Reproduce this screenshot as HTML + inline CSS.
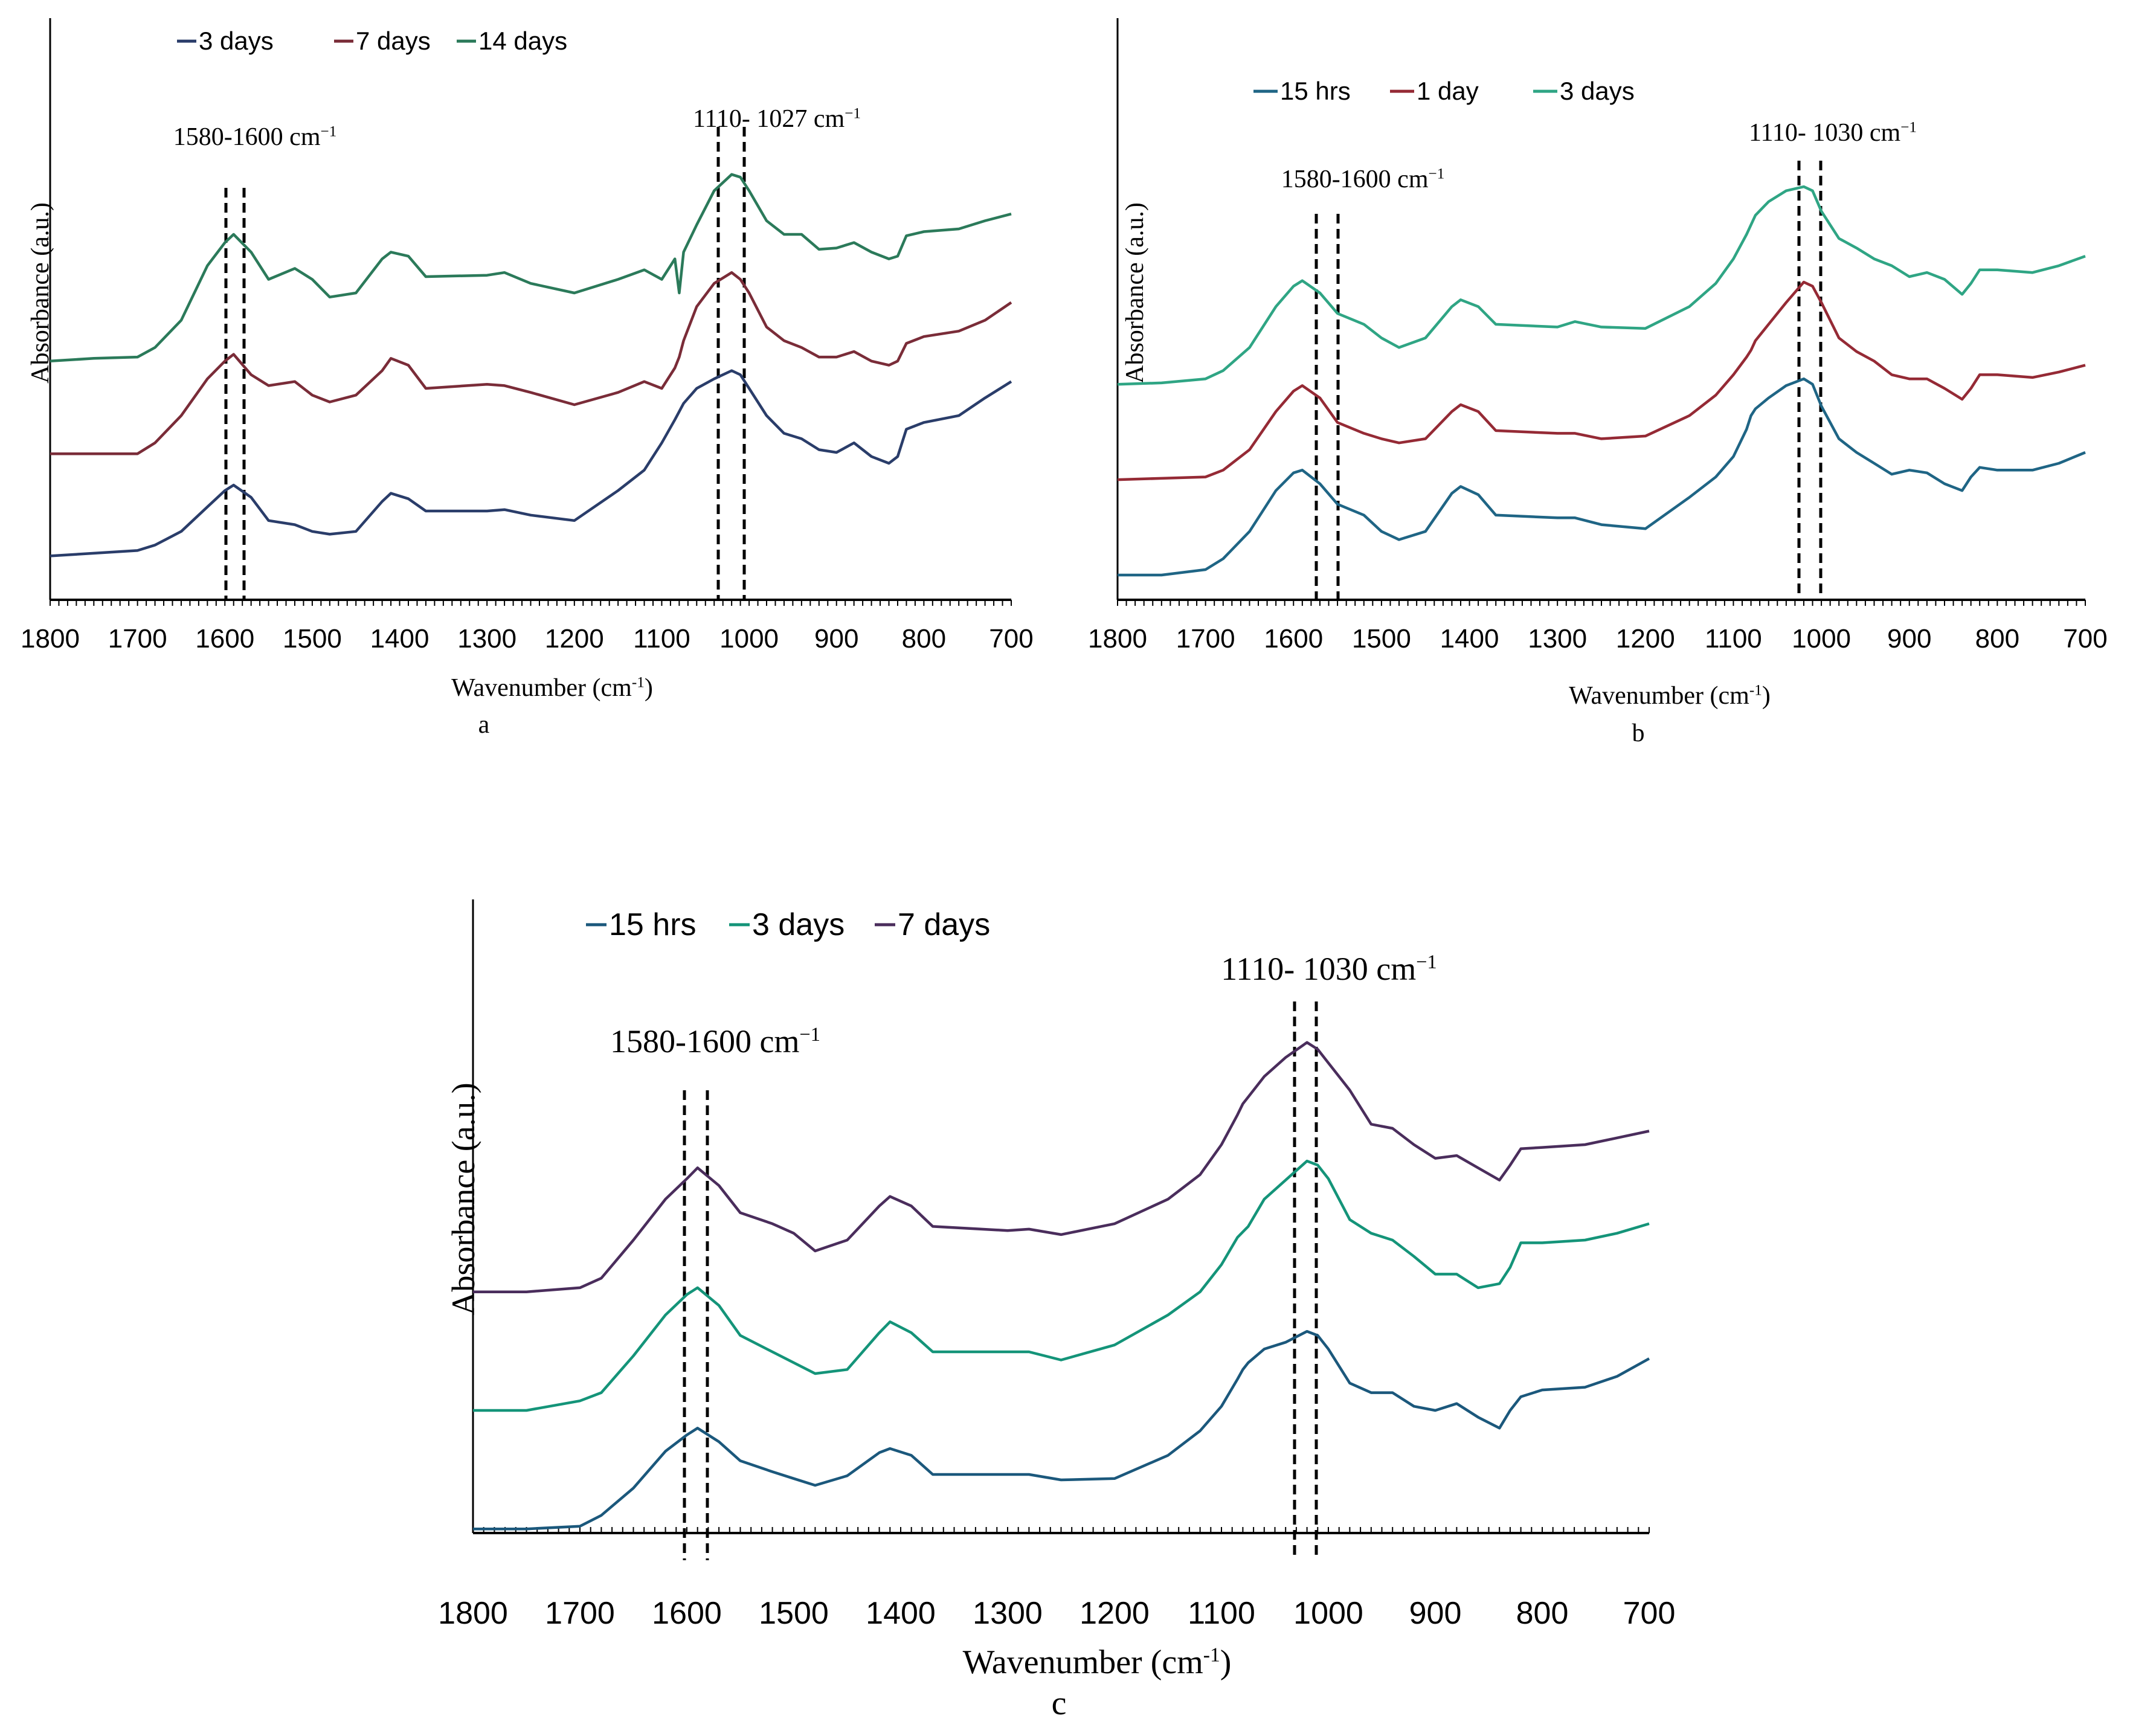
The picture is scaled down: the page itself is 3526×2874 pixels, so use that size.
<!DOCTYPE html>
<html><head><meta charset="utf-8"><style>
body{margin:0;background:#fff}
svg{display:block}
.sans{font-family:"Liberation Sans",sans-serif}
.serif{font-family:"Liberation Serif",serif}
</style></head><body>
<svg id="fig" width="3526" height="2874" viewBox="0 0 3526 2874" xmlns="http://www.w3.org/2000/svg"></svg>
<script>
const wavenumbers=[1800,1750,1700,1680,1650,1620,1600,1590,1570,1550,1520,1500,1480,1450,1420,1410,1390,1370,1300,1280,1250,1200,1150,1120,1100,1085,1080,1075,1060,1040,1020,1010,1000,980,960,940,920,900,880,860,840,830,820,800,760,730,700];
const tickLabels=[1800,1700,1600,1500,1400,1300,1200,1100,1000,900,800,700];
// values are vertical levels (larger = lower on page)
const a14d=[265,263,262,255,235,195,178,172,185,205,197,205,218,215,190,185,188,203,202,200,208,215,205,198,205,190,215,185,165,140,128,130,140,162,172,172,183,182,178,185,190,188,173,170,168,162,157];
const a7d=[333,333,333,325,305,278,265,260,275,283,280,290,295,290,272,263,268,285,282,283,288,297,288,280,285,270,262,250,225,208,200,205,215,240,250,255,262,262,258,265,268,265,252,247,243,235,222];
const a3d=[408,406,404,400,390,372,360,356,365,382,385,390,392,390,368,362,366,375,375,374,378,382,360,345,325,308,302,296,285,278,272,275,285,305,318,322,330,332,325,335,340,335,315,310,305,292,280];
const b3d=[282,281,278,272,255,225,210,206,215,230,238,248,255,248,225,220,225,238,240,236,240,241,225,208,190,172,165,158,148,140,137,140,155,175,182,190,195,203,200,205,216,208,198,198,200,195,188];
const b1d=[352,351,350,345,330,302,287,283,292,310,318,322,325,322,302,297,302,316,318,318,322,320,305,290,275,262,257,250,238,222,207,210,222,248,258,265,275,278,278,285,293,285,275,275,277,273,268];
const b15h=[422,422,418,410,390,360,347,345,355,370,378,390,396,390,362,357,363,378,380,380,385,388,365,350,335,315,305,300,292,283,278,282,298,322,332,340,348,345,347,355,360,350,343,345,345,340,332];
const c7d=[948,948,945,938,910,880,865,857,870,890,898,905,918,910,885,878,885,900,903,902,906,898,880,862,840,818,810,805,790,776,765,770,780,800,825,828,840,850,848,857,866,855,843,842,840,835,830];
const c3d=[1035,1035,1028,1022,995,965,950,945,958,980,992,1000,1008,1005,978,970,978,992,992,992,998,987,965,948,928,908,904,900,880,866,852,855,865,895,905,910,922,935,935,945,942,930,912,912,910,905,898];
const c15h=[1122,1122,1120,1112,1092,1065,1053,1048,1058,1072,1080,1085,1090,1083,1066,1063,1068,1082,1082,1082,1086,1085,1068,1050,1032,1012,1005,1000,990,985,977,980,990,1015,1022,1022,1032,1035,1030,1040,1048,1035,1025,1020,1018,1010,997];

const NS='http://www.w3.org/2000/svg';
const svg=document.getElementById('fig');
const S=2.256;
function el(tag,attrs,parent){const e=document.createElementNS(NS,tag);for(const k in attrs)e.setAttribute(k,attrs[k]);(parent||svg).appendChild(e);return e;}
function txt(s,attrs,parent){const e=el('text',attrs,parent);e.textContent=s;return e;}

function panel(cfg){
  const g=el('g',{});
  
  
  const x=w=>cfg.x0+(1800-w)/1100*(cfg.x1-cfg.x0);
  const y=v=>v*S;
  // axes
  const ya=el('line',{x1:cfg.x0,y1:cfg.top,x2:cfg.x0,y2:cfg.bottom,stroke:'#000','stroke-width':3},g);
  
  
  const xa=el('line',{x1:cfg.x0,y1:cfg.bottom,x2:cfg.x1,y2:cfg.bottom,stroke:'#000','stroke-width':4},g);
  
  
  for(let w=1800;w>=700;w-=10){
    const t=el('line',{x1:x(w),x2:x(w),y1:cfg.bottom,y2:cfg.bottom+(cfg.tickUp?-10:10),stroke:'#000','stroke-width':2},g);
    
    
  }
  tickLabels.forEach(t=>{
    const l=txt(String(t),{x:x(t),y:cfg.tickY,'text-anchor':'middle','font-size':cfg.tickFs,class:'sans'},g);
    
    
  });
  const xt=txt('',{x:cfg.titleX,y:cfg.titleY,'text-anchor':'middle','font-size':cfg.titleFs,class:'serif'},g);
  xt.innerHTML='Wavenumber (cm<tspan dy="-'+cfg.titleFs*0.35+'" font-size="'+cfg.titleFs*0.6+'">-1</tspan><tspan dy="'+cfg.titleFs*0.35+'">)</tspan>';
  
  
  const sub=txt(cfg.letter,{x:cfg.letterX,y:cfg.letterY,'text-anchor':'middle','font-size':cfg.titleFs,class:'serif'},g);
  
  
  const yt=txt('Absorbance (a.u.)',{x:0,y:0,'text-anchor':'middle','font-size':cfg.ylFs,class:'serif',transform:'translate('+cfg.ylX+','+cfg.ylY+') rotate(-90)'},g);
  
  
  // dashed lines
  cfg.dashes.forEach(d=>{
    const l=el('line',{x1:d[0],x2:d[0],y1:d[1],y2:d[2],stroke:'#000','stroke-width':5,'stroke-dasharray':'16,9'},g);
    
    
  });
  cfg.annots.forEach(a=>{
    const t=txt('',{x:a[1],y:a[2],'text-anchor':'middle','font-size':cfg.annFs,class:'serif'},g);
    t.innerHTML=a[0]+' cm<tspan dy="-'+cfg.annFs*0.35+'" font-size="'+cfg.annFs*0.6+'">−1</tspan>';
    
    
  });
  // series
  cfg.series.forEach(s=>{
    const d=wavenumbers.map((w,i)=>(i?'L':'M')+x(w).toFixed(1)+','+y(s.vals[i]).toFixed(1)).join(' ');
    const p=el('path',{d:d,fill:'none',stroke:s.color,'stroke-width':4.5,'stroke-linejoin':'round'},g);
    
    
  });
  // legend
  cfg.series.forEach(s=>{
    const lg=el('g',{},g);
    
    
    el('line',{x1:s.lx,x2:s.lx+cfg.legLine,y1:cfg.legY-cfg.legFs*0.33,y2:cfg.legY-cfg.legFs*0.33,stroke:s.color,'stroke-width':5},lg);
    txt(s.label,{x:s.lx+cfg.legLine+4,y:cfg.legY,'font-size':cfg.legFs,class:'sans'},lg);
  });
}

panel({name:'panel-a',x0:83,x1:1674,top:30,bottom:993,tickY:1072,tickFs:44,titleX:914,titleY:1152,titleFs:42,letter:'a',letterX:801,letterY:1213,
  ylX:80,ylY:485,ylFs:42,annFs:42,
  dashes:[[374,311,993],[404,311,993],[1189,210,993],[1232,210,993]],
  annots:[['1580-1600',422,240],['1110- 1027',1286,210]],
  legY:82,legFs:42,legLine:32,
  series:[{key:'14-days',label:'14 days',color:'#2b7a5a',vals:a14d,lx:756},{key:'7-days',label:'7 days',color:'#7a2c38',vals:a7d,lx:553},{key:'3-days',label:'3 days',color:'#2a3d6a',vals:a3d,lx:293}].reverse()});

panel({name:'panel-b',x0:1850,x1:3452,top:30,bottom:993,tickY:1072,tickFs:44,titleX:2764,titleY:1165,titleFs:42,letter:'b',letterX:2712,letterY:1227,
  ylX:1892,ylY:485,ylFs:42,annFs:42,
  dashes:[[2179,354,993],[2215,354,993],[2978,266,993],[3014,266,993]],
  annots:[['1580-1600',2256,310],['1110- 1030',3034,233]],
  legY:165,legFs:42,legLine:40,
  series:[{key:'15-hrs',label:'15 hrs',color:'#1f6585',vals:b15h,lx:2075},{key:'1-day',label:'1 day',color:'#952a35',vals:b1d,lx:2301},{key:'3-days',label:'3 days',color:'#2fa584',vals:b3d,lx:2538}]});

panel({name:'panel-c',x0:783,x1:2730,top:1489,bottom:2538,tickUp:true,tickY:2688,tickFs:52,titleX:1816,titleY:2770,titleFs:56,letter:'c',letterX:1753,letterY:2838,
  ylX:785,ylY:1985,ylFs:54,annFs:54,
  dashes:[[1133,1805,2583],[1171,1805,2583],[2143,1658,2583],[2179,1658,2583]],
  annots:[['1580-1600',1184,1742],['1110- 1030',2200,1622]],
  legY:1548,legFs:52,legLine:34,
  series:[{key:'15-hrs',label:'15 hrs',color:'#1b587c',vals:c15h,lx:970},{key:'3-days',label:'3 days',color:'#149479',vals:c3d,lx:1207},{key:'7-days',label:'7 days',color:'#4a2d5c',vals:c7d,lx:1448}]});
</script>
</body></html>
